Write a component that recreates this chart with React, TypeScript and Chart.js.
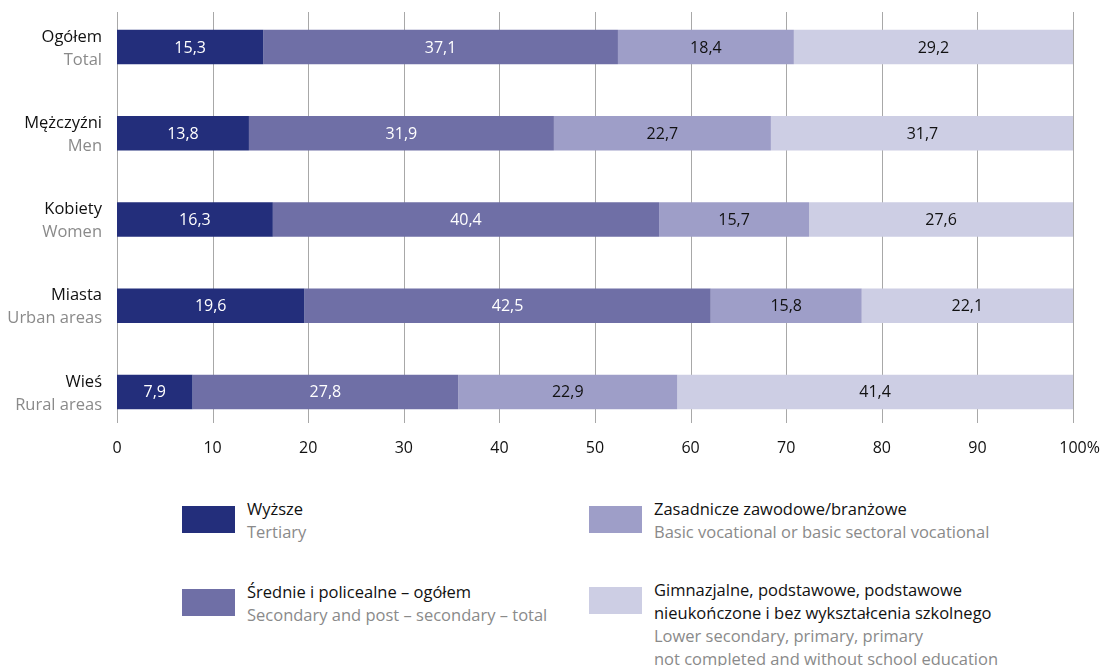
import React, { useEffect, useRef } from 'react';
import { Chart, registerables } from 'chart.js';

Chart.register(...registerables);

const categoriesPL = ['Ogółem', 'Mężczyźni', 'Kobiety', 'Miasta', 'Wieś'];
const categoriesEN = ['Total', 'Men', 'Women', 'Urban areas', 'Rural areas'];
const tertiary = [15.3, 13.8, 16.3, 19.6, 7.9];
const secondary = [37.1, 31.9, 40.4, 42.5, 27.8];
const vocational = [18.4, 22.7, 15.7, 15.8, 22.9];
const lowerOrNone = [29.2, 31.7, 27.6, 22.1, 41.4];
const xTickValues = [0, 10, 20, 30, 40, 50, 60, 70, 80, 90, 100];
const seriesPL = [
  'Wyższe',
  'Średnie i policealne – ogółem',
  'Zasadnicze zawodowe/branżowe',
  'Gimnazjalne, podstawowe, podstawowe\nnieukończone i bez wykształcenia szkolnego',
];
const seriesEN = [
  'Tertiary',
  'Secondary and post – secondary – total',
  'Basic vocational or basic sectoral vocational',
  'Lower secondary, primary, primary\nnot completed and without school education',
];

const COLORS = ['#232e7b', '#6f6fa6', '#9e9ec8', '#cdcee4'];
const LABEL_COLORS = ['#ffffff', '#ffffff', '#111111', '#111111'];
const FONT = '"Open Sans", sans-serif';
const GRAY = '#8a8a8a';

const gridPlugin = {
  id: 'customGrid',
  beforeDatasetsDraw(chart: any) {
    const { ctx, chartArea, scales } = chart;
    ctx.save();
    ctx.strokeStyle = '#a8a8a8';
    ctx.lineWidth = 1;
    xTickValues.forEach((v) => {
      const x = Math.round(scales.x.getPixelForValue(v)) + 0.5;
      ctx.beginPath();
      ctx.moveTo(x, chartArea.top + 8);
      ctx.lineTo(x, chartArea.bottom - 12);
      ctx.stroke();
    });
    ctx.restore();
  },
};

const xLabelPlugin = {
  id: 'xLabels',
  afterDraw(chart: any) {
    const { ctx, chartArea, scales } = chart;
    ctx.save();
    ctx.font = `16px ${FONT}`;
    ctx.fillStyle = '#111111';
    ctx.textBaseline = 'middle';
    const y = chartArea.bottom + 13;
    xTickValues.forEach((v) => {
      const x = scales.x.getPixelForValue(v);
      const t = String(v);
      ctx.textAlign = 'center';
      ctx.fillText(t, x, y);
      if (v === 100) {
        const w = ctx.measureText(t).width;
        ctx.textAlign = 'left';
        ctx.fillText('%', x + w / 2, y);
      }
    });
    ctx.restore();
  },
};

const barLabelPlugin = {
  id: 'barLabels',
  afterDatasetsDraw(chart: any) {
    const { ctx } = chart;
    ctx.save();
    ctx.font = `16px ${FONT}`;
    ctx.textAlign = 'center';
    ctx.textBaseline = 'middle';
    chart.data.datasets.forEach((ds: any, di: number) => {
      const meta = chart.getDatasetMeta(di);
      meta.data.forEach((el: any, i: number) => {
        const v = ds.data[i];
        const cx = (el.x + el.base) / 2;
        ctx.fillStyle = LABEL_COLORS[di];
        ctx.fillText(String(v).replace('.', ','), cx, el.y + 1);
      });
    });
    ctx.restore();
  },
};

const yLabelPlugin = {
  id: 'yLabels',
  afterDraw(chart: any) {
    const { ctx, chartArea, scales } = chart;
    ctx.save();
    ctx.textAlign = 'right';
    ctx.textBaseline = 'middle';
    const x = chartArea.left - 15;
    categoriesPL.forEach((c, i) => {
      const y = scales.y.getPixelForValue(i);
      ctx.font = `16.5px ${FONT}`;
      ctx.fillStyle = '#111111';
      ctx.fillText(c, x, y - 10);
      ctx.fillStyle = GRAY;
      ctx.fillText(categoriesEN[i], x, y + 13);
    });
    ctx.restore();
  },
};

function LegendItem(props: { color: string; pl: string; en: string; left: number; top: number }) {
  const { color, pl, en, left, top } = props;
  return (
    <div style={{ position: 'absolute', left, top, fontFamily: FONT, fontSize: 16.5, lineHeight: '23px' }}>
      <div style={{ position: 'absolute', left: 0, top: 9, width: 53, height: 27, background: color }} />
      <div style={{ position: 'absolute', left: 65, top: 0, whiteSpace: 'pre' }}>
        <div style={{ color: '#111' }}>{pl}</div>
        <div style={{ color: GRAY }}>{en}</div>
      </div>
    </div>
  );
}

export default function App() {
  const ref = useRef<HTMLCanvasElement | null>(null);
  useEffect(() => {
    if (!ref.current) return;
    const chart = new Chart(ref.current, {
      type: 'bar',
      data: {
        labels: categoriesPL,
        datasets: [tertiary, secondary, vocational, lowerOrNone].map((d, i) => ({
          label: seriesPL[i],
          data: d,
          backgroundColor: COLORS[i],
          borderWidth: 0,
          categoryPercentage: 1,
          barPercentage: 0.4,
        })),
      },
      options: {
        indexAxis: 'y',
        responsive: false,
        animation: false,
        layout: { padding: { left: 0, right: 30, top: 4, bottom: 0 } },
        plugins: { legend: { display: false }, tooltip: { enabled: false } },
        scales: {
          x: {
            type: 'linear',
            stacked: true,
            min: 0,
            max: 100,
            grid: { display: false, drawTicks: false },
            border: { display: false },
            ticks: { display: false, stepSize: 10 },
            afterFit: (s: any) => {
              s.height = 40;
            },
          },
          y: {
            type: 'category',
            stacked: true,
            grid: { display: false, drawTicks: false },
            border: { display: false },
            ticks: { display: false },
            afterFit: (s: any) => {
              s.width = 117;
            },
          },
        },
      },
      plugins: [gridPlugin, barLabelPlugin, yLabelPlugin, xLabelPlugin],
    } as any);
    return () => chart.destroy();
  }, []);

  return (
    <div style={{ position: 'absolute', left: 0, top: 0, width: 1103, height: 666, background: '#fff' }}>
      <canvas ref={ref} width={1103} height={475} style={{ position: 'absolute', left: 0, top: 0 }} />
      <LegendItem color={COLORS[0]} pl={seriesPL[0]} en={seriesEN[0]} left={182} top={497} />
      <LegendItem color={COLORS[1]} pl={seriesPL[1]} en={seriesEN[1]} left={182} top={580} />
      <LegendItem color={COLORS[2]} pl={seriesPL[2]} en={seriesEN[2]} left={589} top={497} />
      <LegendItem color={COLORS[3]} pl={seriesPL[3]} en={seriesEN[3]} left={589} top={578} />
    </div>
  );
}
